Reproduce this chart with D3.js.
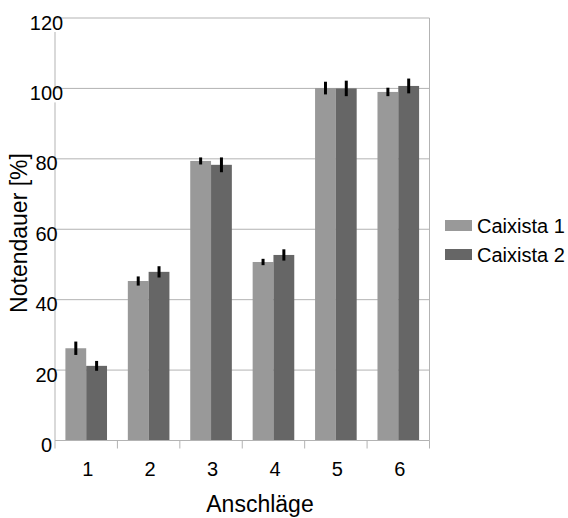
<!DOCTYPE html>
<html>
<head>
<meta charset="utf-8">
<script src="https://cdn.jsdelivr.net/npm/d3@7"></script>
<style>
  html, body { margin: 0; padding: 0; background: #fff; overflow: hidden; }
  svg { display: block; font-family: "Liberation Sans", Arial, sans-serif; }
</style>
</head>
<body>
<div id="chart"></div>
<script>
const categories = ["1", "2", "3", "4", "5", "6"];
const seriesNames = ["Caixista 1", "Caixista 2"];
const caixista1 = [26.2, 45.3, 79.4, 50.7, 100.1, 99.0];
const caixista1Err = [1.9, 1.3, 1.0, 0.9, 1.8, 1.2];
const caixista2 = [21.2, 47.9, 78.3, 52.7, 100.0, 100.7];
const caixista2Err = [1.4, 1.6, 2.1, 1.6, 2.2, 2.1];
const yTicks = [0, 20, 40, 60, 80, 100, 120];

const width = 568;
const height = 518;
const margin = { top: 18, right: 138.5, bottom: 77.5, left: 55 };
const innerWidth = width - margin.left - margin.right;
const innerHeight = height - margin.top - margin.bottom;

const colors = { "Caixista 1": "#999999", "Caixista 2": "#666666" };

const rows = categories.map((c, i) => ({
  category: c,
  values: [
    { series: seriesNames[0], value: caixista1[i], err: caixista1Err[i] },
    { series: seriesNames[1], value: caixista2[i], err: caixista2Err[i] }
  ]
}));

const svg = d3.select("#chart")
  .append("svg")
  .attr("width", width)
  .attr("height", height);

const g = svg.append("g")
  .attr("transform", `translate(${margin.left}, ${margin.top})`);

const x = d3.scaleBand().domain(categories).range([0, innerWidth]).padding(0);
const xSub = d3.scaleBand()
  .domain(seriesNames)
  .range([x.bandwidth() / 6, x.bandwidth() * 5 / 6])
  .padding(0);
const y = d3.scaleLinear().domain([0, 120]).range([innerHeight, 0]);

// grid
g.append("g")
  .selectAll("line")
  .data(yTicks.filter((d) => d > 0))
  .join("line")
  .attr("x1", 0)
  .attr("x2", innerWidth)
  .attr("y1", (d) => y(d))
  .attr("y2", (d) => y(d))
  .attr("stroke", "#b3b3b3")
  .attr("stroke-width", 1);

// right border
g.append("line")
  .attr("x1", innerWidth).attr("x2", innerWidth)
  .attr("y1", 0).attr("y2", innerHeight)
  .attr("stroke", "#b3b3b3");

// bars
const groups = g.append("g")
  .selectAll("g")
  .data(rows)
  .join("g")
  .attr("transform", (d) => `translate(${x(d.category)}, 0)`);

groups.selectAll("rect")
  .data((d) => d.values)
  .join("rect")
  .attr("x", (d) => xSub(d.series))
  .attr("width", xSub.bandwidth())
  .attr("y", (d) => y(d.value))
  .attr("height", (d) => innerHeight - y(d.value))
  .attr("fill", (d) => colors[d.series]);

groups.selectAll("line.err")
  .data((d) => d.values)
  .join("line")
  .attr("class", "err")
  .attr("x1", (d) => xSub(d.series) + xSub.bandwidth() / 2)
  .attr("x2", (d) => xSub(d.series) + xSub.bandwidth() / 2)
  .attr("y1", (d) => y(d.value - d.err))
  .attr("y2", (d) => y(d.value + d.err))
  .attr("stroke", "#000")
  .attr("stroke-width", 3);

// axes lines
g.append("line")
  .attr("x1", 0).attr("x2", 0)
  .attr("y1", y(100) + 14).attr("y2", innerHeight)
  .attr("stroke", "#b3b3b3");

g.append("line")
  .attr("x1", 0).attr("x2", 0)
  .attr("y1", y(120) + 14).attr("y2", y(100) - 1)
  .attr("stroke", "#b3b3b3");

g.append("line")
  .attr("x1", 0).attr("x2", innerWidth)
  .attr("y1", innerHeight).attr("y2", innerHeight)
  .attr("stroke", "#b3b3b3");

const boundaries = categories.map((c) => x(c)).concat([innerWidth]);
g.append("g")
  .selectAll("line")
  .data(boundaries)
  .join("line")
  .attr("x1", (d) => d).attr("x2", (d) => d)
  .attr("y1", innerHeight).attr("y2", innerHeight + 8)
  .attr("stroke", "#b3b3b3");

// y labels
g.append("g")
  .selectAll("text")
  .data(yTicks)
  .join("text")
  .attr("x", -8.5)
  .attr("y", (d) => y(d) + 11.5)
  .attr("text-anchor", "middle")
  .attr("font-size", 20)
  .attr("fill", "#000")
  .text((d) => d);

// x labels
g.append("g")
  .selectAll("text")
  .data(categories)
  .join("text")
  .attr("x", (d) => x(d) + x.bandwidth() / 2 + 1.5)
  .attr("y", innerHeight + 35.5)
  .attr("text-anchor", "middle")
  .attr("font-size", 20)
  .text((d) => d);

// axis titles
svg.append("text")
  .attr("x", 260)
  .attr("y", 512)
  .attr("text-anchor", "middle")
  .attr("font-size", 23)
  .text("Anschläge");

svg.append("text")
  .attr("transform", "translate(27, 233) rotate(-90)")
  .attr("text-anchor", "middle")
  .attr("font-size", 23)
  .text("Notendauer [%]");

// legend
const legend = svg.append("g")
  .selectAll("g")
  .data(seriesNames)
  .join("g")
  .attr("transform", (d, i) => `translate(445, ${220 + i * 29})`);

legend.append("rect")
  .attr("width", 27)
  .attr("height", 11)
  .attr("fill", (d) => colors[d]);

legend.append("text")
  .attr("x", 32)
  .attr("y", 13)
  .attr("font-size", 20)
  .text((d) => d);
</script>
</body>
</html>
